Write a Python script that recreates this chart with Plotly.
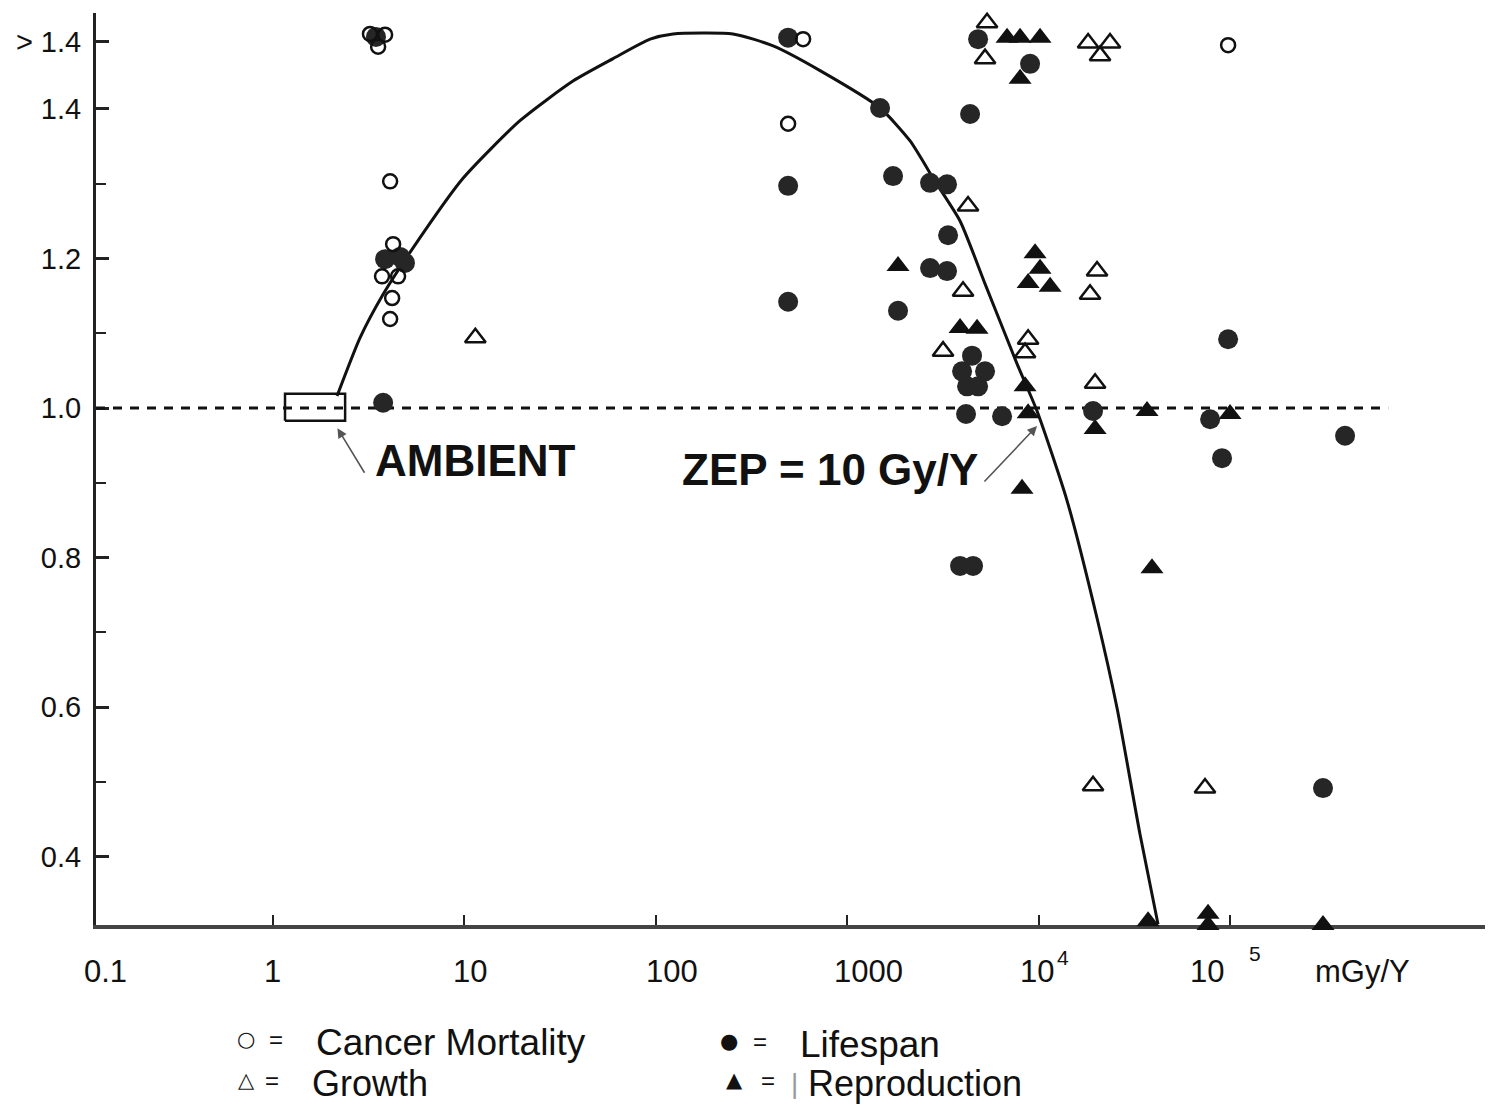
import numpy as np
import plotly.graph_objects as go

# ---------------- data (dose in mGy/Y, response ratio) ----------------
cancer_x = [3.21, 3.85, 3.54, 4.24, 4.09, 3.71, 4.50, 4.19, 4.09, 491, 588, 97700]
cancer_y = [1.500, 1.499, 1.483, 1.219, 1.303, 1.176, 1.176, 1.147, 1.119, 1.380, 1.493, 1.485]

lifespan_x = [3.45, 3.76, 3.85, 4.61, 4.89, 491, 491, 491, 1484, 1735, 2708, 3322, 4383,
              3364, 2708, 3322, 1842, 4826, 9020, 3981, 5248, 4227, 4826, 4487, 4175,
              6440, 3885, 4542, 19240, 78700, 97700, 90800, 399000, 306000]
lifespan_y = [1.496, 1.007, 1.199, 1.202, 1.194, 1.495, 1.297, 1.142, 1.401, 1.310, 1.301, 1.299, 1.393,
              1.231, 1.187, 1.183, 1.130, 1.493, 1.460, 1.049, 1.049, 1.029, 1.029, 1.070, 0.992,
              0.989, 0.789, 0.789, 0.996, 0.985, 1.092, 0.933, 0.963, 0.492]

growth_x = [11.4, 5375, 5248, 18130, 23600, 20930, 4276, 4028, 3167, 8810, 8493,
            20190, 18560, 19720, 19240, 73990]
growth_y = [1.094, 1.515, 1.467, 1.488, 1.488, 1.471, 1.270, 1.156, 1.076, 1.092, 1.074,
            1.183, 1.152, 1.033, 0.495, 0.492]

repro_x = [6839, 7998, 10170, 7998, 1842, 9578, 10170, 8810, 11480, 3885, 4766, 8493,
           8810, 19720, 36830, 100000, 8188, 39100, 37300, 76740, 76740, 306000]
repro_y = [1.495, 1.495, 1.495, 1.440, 1.190, 1.207, 1.186, 1.167, 1.162, 1.107, 1.106, 1.029,
           0.993, 0.972, 0.996, 0.992, 0.892, 0.786, 0.314, 0.324, 0.309, 0.309]

curve_x = [2.16, 2.85, 3.76, 5.39, 9.83, 19.5, 36.9, 59.8, 93.3, 123, 253, 410, 721, 1484,
           2130, 2875, 3885, 5248, 7713, 9808, 14080, 20190, 25680, 33870, 42050]
curve_y = [1.016, 1.094, 1.152, 1.214, 1.307, 1.384, 1.437, 1.467, 1.493, 1.500, 1.500, 1.484,
           1.451, 1.401, 1.357, 1.303, 1.250, 1.166, 1.059, 0.996, 0.876, 0.719, 0.599, 0.430, 0.310]

ambient_x = [1.155, 2.38]
ambient_y = [0.983, 1.019]
baseline_y = 1.0
baseline_x_end = 6.7e5
zep_dose = 9808

x_tick_vals = [1, 10, 100, 1000, 1e4, 1e5]
y_tick_vals = [1.49, 1.4, 1.2, 1.0, 0.8, 0.6, 0.4]
y_tick_text = ["> 1.4", "1.4", "1.2", "1.0", "0.8", "0.6", "0.4"]
y_minor_vals = [1.3, 1.1, 0.9, 0.7, 0.5]

# ---------------- layout geometry ----------------
OFF = 8                      # page body margin
W, H = 1477, 1097
ML, MR, MT = 96 - OFF, 0, 13 - OFF
PLOT_BOTTOM = 925 - OFF
MB = H - PLOT_BOTTOM
PX_PER_DEC = 191.4
X_LEFT = -0.925
X_RANGE = [X_LEFT, X_LEFT + (W - ML - MR) / PX_PER_DEC]   # log10
Y_RANGE = [0.309, 1.528]
FONT = "Liberation Sans, Arial, Helvetica, sans-serif"

def px_to_paper_x(px):
    return (px - OFF - ML) / (W - ML - MR)

def px_to_paper_y(py):
    return (PLOT_BOTTOM - (py - OFF)) / (PLOT_BOTTOM - MT)

fig = go.Figure()

# ambient box
bx = [ambient_x[0], ambient_x[1], ambient_x[1], ambient_x[0], ambient_x[0]]
by = [ambient_y[0], ambient_y[0], ambient_y[1], ambient_y[1], ambient_y[0]]
fig.add_trace(go.Scatter(x=bx, y=by, mode="lines", fill="toself", fillcolor="white",
                         line=dict(color="#111", width=2.5), hoverinfo="skip", showlegend=False))

# dashed baseline
fig.add_trace(go.Scatter(x=[10 ** X_RANGE[0], baseline_x_end], y=[baseline_y, baseline_y],
                         mode="lines", line=dict(color="#111", width=3, dash="9px,8px"),
                         hoverinfo="skip", showlegend=False))

# hormesis curve
fig.add_trace(go.Scatter(x=curve_x, y=curve_y, mode="lines",
                         line=dict(color="#111", width=3, shape="spline", smoothing=0.6),
                         hoverinfo="skip", showlegend=False))

mk = dict(cliponaxis=False, showlegend=False, mode="markers")
fig.add_trace(go.Scatter(x=growth_x, y=growth_y, name="Growth",
                         marker=dict(symbol="triangle-up-open", size=18, color="#111",
                                     line=dict(width=2.5, color="#111")), **mk))
fig.add_trace(go.Scatter(x=repro_x, y=repro_y, name="Reproduction",
                         marker=dict(symbol="triangle-up", size=20, color="#111",
                                     line=dict(width=0)), **mk))
fig.add_trace(go.Scatter(x=lifespan_x, y=lifespan_y, name="Lifespan",
                         marker=dict(symbol="circle", size=20, color="#262626",
                                     line=dict(width=0)), **mk))
fig.add_trace(go.Scatter(x=cancer_x, y=cancer_y, name="Cancer Mortality",
                         marker=dict(symbol="circle-open", size=14, color="#111",
                                     line=dict(width=2.5, color="#111")), **mk))

annotations = []
# x tick labels (placed as in the original figure)
xlab_y = px_to_paper_y(972)
for txt, px in [("0.1", 105), ("1", 272), ("10", 470), ("100", 672), ("1000", 868),
                ("10", 1037), ("10", 1207), ("mGy/Y", 1362)]:
    annotations.append(dict(text=txt, x=px_to_paper_x(px), y=xlab_y, xref="paper", yref="paper",
                            showarrow=False, font=dict(family=FONT, size=31, color="#111"),
                            xanchor="center", yanchor="middle"))
for txt, px, py in [("4", 1063, 957), ("5", 1255, 953)]:
    annotations.append(dict(text=txt, x=px_to_paper_x(px), y=px_to_paper_y(py), xref="paper",
                            yref="paper", showarrow=False,
                            font=dict(family=FONT, size=21, color="#111"),
                            xanchor="center", yanchor="middle"))

# callouts
annotations.append(dict(text="<b>AMBIENT</b>", x=px_to_paper_x(475), y=px_to_paper_y(460),
                        xref="paper", yref="paper", showarrow=False,
                        font=dict(family=FONT, size=44, color="#111"), xanchor="center",
                        yanchor="middle"))
annotations.append(dict(text="<b>ZEP = 10 Gy/Y</b>", x=px_to_paper_x(830), y=px_to_paper_y(469),
                        xref="paper", yref="paper", showarrow=False,
                        font=dict(family=FONT, size=44, color="#111"), xanchor="center",
                        yanchor="middle"))
annotations.append(dict(text="", x=np.log10(ambient_x[1]) - 0.04, y=ambient_y[0] - 0.01,
                        xref="x", yref="y", showarrow=True, ax=28, ay=46, arrowhead=2,
                        arrowsize=1.2, arrowwidth=1.6, arrowcolor="#555"))
annotations.append(dict(text="", x=np.log10(zep_dose), y=0.976, xref="x", yref="y",
                        showarrow=True, ax=-54, ay=57, arrowhead=2, arrowsize=1.2,
                        arrowwidth=1.6, arrowcolor="#555"))

# legend key (as text, like the original)
sym_font = dict(family="DejaVu Sans, sans-serif", size=21, color="#111")
for sym, eq_px, sym_px, label, lab_px, py, fs in [
        ("○", 276, 246, "Cancer Mortality", 314, 1042, 37),
        ("△", 272, 246, "Growth", 310, 1083, 36),
        ("●", 760, 729, "Lifespan", 798, 1044, 37),
        ("▲", 768, 734, "Reproduction", 806, 1083, 36)]:
    annotations.append(dict(text=sym, x=px_to_paper_x(sym_px), y=px_to_paper_y(py - 3),
                            xref="paper", yref="paper", showarrow=False, font=sym_font,
                            xanchor="center", yanchor="middle"))
    annotations.append(dict(text="=", x=px_to_paper_x(eq_px), y=px_to_paper_y(py - 3),
                            xref="paper", yref="paper", showarrow=False,
                            font=dict(family=FONT, size=24, color="#111"),
                            xanchor="center", yanchor="middle"))
    annotations.append(dict(text=label, x=px_to_paper_x(lab_px), y=px_to_paper_y(py),
                            xref="paper", yref="paper", showarrow=False,
                            font=dict(family=FONT, size=fs, color="#111"),
                            xanchor="left", yanchor="middle"))
annotations.append(dict(text="|", x=px_to_paper_x(794), y=px_to_paper_y(1083), xref="paper",
                        yref="paper", showarrow=False,
                        font=dict(family=FONT, size=28, color="#999"),
                        xanchor="center", yanchor="middle"))

fig.update_layout(
    width=W, height=H,
    margin=dict(l=ML, r=MR, t=MT, b=MB, pad=0),
    paper_bgcolor="white", plot_bgcolor="white",
    font=dict(family=FONT, color="#111"),
    annotations=annotations,
    xaxis=dict(type="log", range=X_RANGE, showgrid=False, zeroline=False,
               showline=True, linecolor="#444", linewidth=4, layer="below traces",
               tickmode="array", tickvals=x_tick_vals, showticklabels=False,
               ticks="inside", ticklen=10, tickwidth=2, tickcolor="#222"),
    yaxis=dict(range=Y_RANGE, showgrid=False, zeroline=False,
               showline=True, linecolor="#222", linewidth=3, layer="below traces",
               tickmode="array", tickvals=y_tick_vals, ticktext=y_tick_text,
               ticks="inside", ticklen=13, tickwidth=2.5, tickcolor="#222",
               tickfont=dict(family=FONT, size=29, color="#111"),
               ticklabelstandoff=6,
               minor=dict(tickmode="array", tickvals=y_minor_vals, ticks="inside",
                          ticklen=10, tickwidth=2, tickcolor="#222")),
)

fig.write_html("out.html")
